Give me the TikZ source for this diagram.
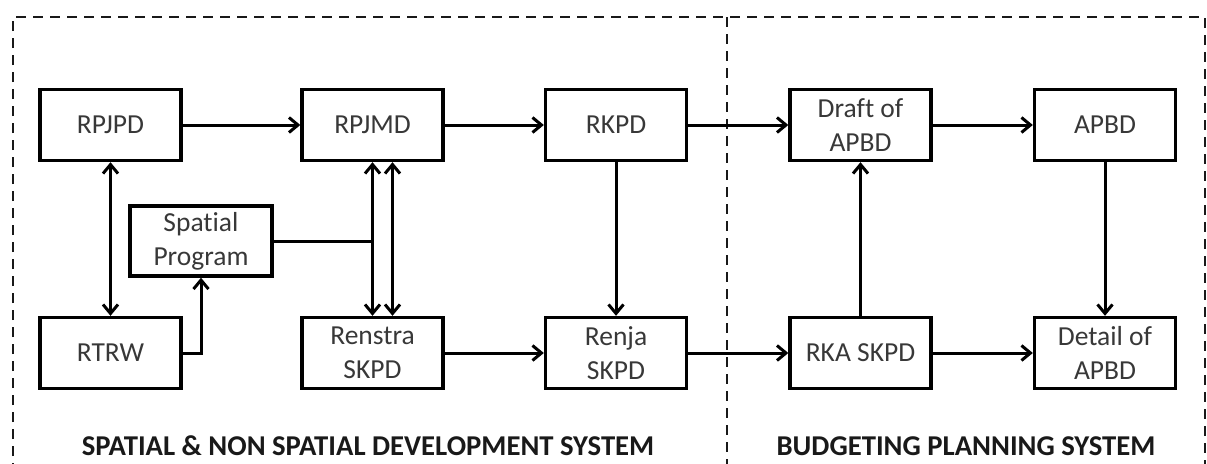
\documentclass[tikz,border=0pt]{standalone}
\usepackage{fontspec}
\setmainfont{Carlito}[Ligatures=NoCommon]
\usetikzlibrary{arrows.meta}
\tikzset{
  tip/.tip={Straight Barb[length=9pt,width=15pt,line width=3pt]},
  stage/.style={draw, line width=3.4pt, minimum width=141pt, minimum height=71pt,
    inner sep=0pt, align=center, text=black!78,
    font=\fontsize{27.5}{34}\selectfont},
  flow/.style={line width=3pt, -tip},
  biflow/.style={line width=3pt, tip-tip},
  link/.style={line width=3pt},
  frame/.style={line width=2.8pt, dash pattern=on 10pt off 7pt, black!90},
  system/.style={font=\fontsize{28.7}{32}\selectfont\bfseries, text=black!90, inner sep=0pt}
}
\begin{document}
\begin{tikzpicture}[x=1pt, y=-1pt]
  \useasboundingbox (0,0) rectangle (1207,463);
  % dashed frame and divider between the two systems
  \draw[frame] (13,490) -- (13,17) -- (1205,17) -- (1205,490);
  \draw[frame] (727,17) -- (727,490);

  % top row
  \node[stage] (rpjpd) at (110.5,125) {RPJPD};
  \node[stage] (rpjmd) at (372.5,125) {RPJMD};
  \node[stage] (rkpd)  at (616,125)   {RKPD};
  \node[stage] (draft) at (860.5,125) {Draft of\\APBD};
  \node[stage] (apbd)  at (1105,125)  {APBD};
  % bottom row
  \node[stage] (rtrw)    at (110.5,353) {RTRW};
  \node[stage] (renstra) at (372.5,353) {Renstra\\SKPD};
  \node[stage] (renja)   at (616,353)   {Renja\\SKPD};
  \node[stage] (rka)     at (860.5,353) {RKA SKPD};
  \node[stage] (detail)  at (1105,353)  {Detail of\\APBD};
  % middle
  \node[stage, minimum width=142pt, minimum height=70pt] (spatial) at (201,241) {Spat\kern0pt ial\\Program};

  % horizontal flows
  \draw[flow] (rpjpd) -- (rpjmd);
  \draw[flow] (rpjmd) -- (rkpd);
  \draw[flow] (rkpd) -- (draft);
  \draw[flow] (draft) -- (apbd);
  \draw[flow] (renstra) -- (renja);
  \draw[flow] (renja) -- (rka);
  \draw[flow] (rka) -- (detail);

  % vertical flows
  \draw[biflow] (rpjpd) -- (rtrw);
  \draw[biflow] (rpjmd.south) -- (renstra.north);
  \draw[biflow] ([xshift=20pt]rpjmd.south) -- ([xshift=20pt]renstra.north);
  \draw[flow] (rkpd) -- (renja);
  \draw[flow] (rka) -- (draft);
  \draw[flow] (apbd) -- (detail);

  % spatial program links
  \draw[flow] (rtrw.east) -| (spatial.south);
  \coordinate (join) at (rpjmd.south |- spatial.east);
  \draw[link] (spatial.east) -- (join);

  % system labels
  \node[system] (lsys) at (368,446) {SPAT\kern0pt IAL \& NON SPAT\kern0pt IAL DEVELOPMENT SYSTEM};
  \node[system] (rsys) at (966,446) {BUDGETING PLANNING SYSTEM};
\end{tikzpicture}
\end{document}
